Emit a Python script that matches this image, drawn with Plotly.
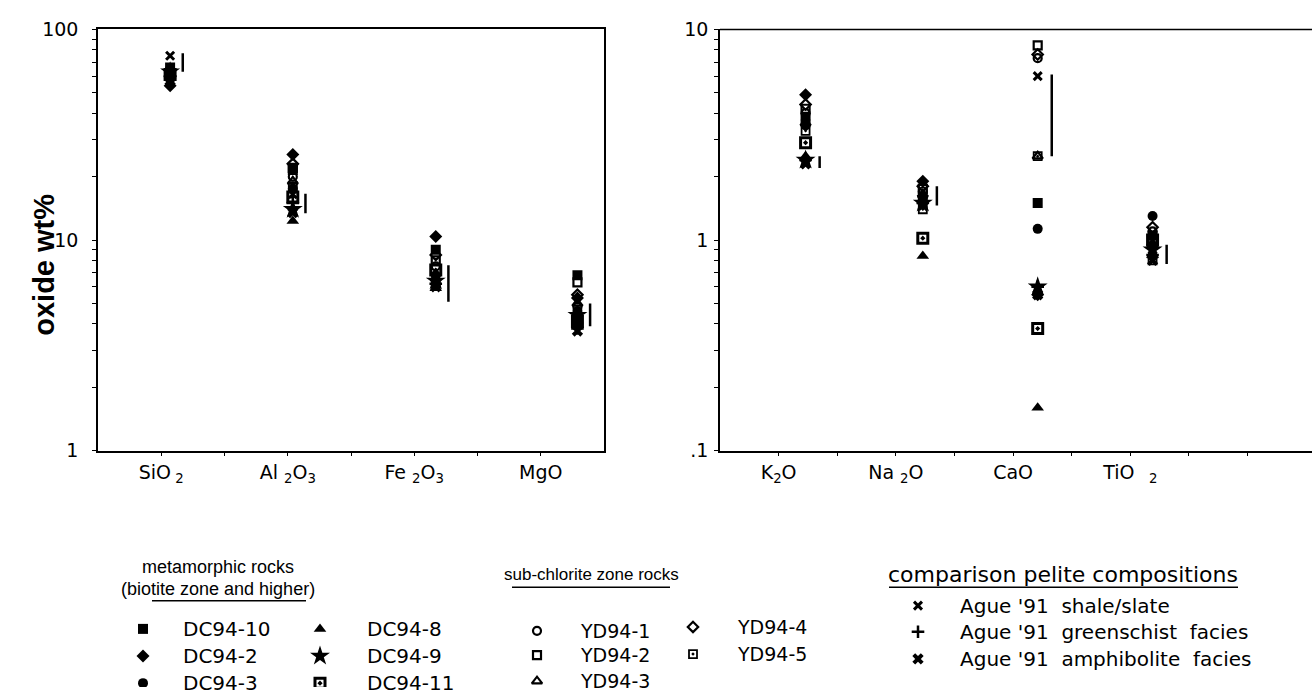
import plotly.graph_objects as go

W, H = 1312, 698

# ---------------- data ----------------
oxides_left = ["SiO2", "Al2O3", "Fe2O3", "MgO"]
oxides_right = ["K2O", "Na2O", "CaO", "TiO2"]
labels_left = ["SiO<sub> 2</sub>", "Al <sub>2</sub>O<sub>3</sub>", "Fe <sub>2</sub>O<sub>3</sub>", "MgO"]
labels_right = ["K<sub>2</sub>O", "Na <sub>2</sub>O", "CaO", "TiO <sub>  2</sub>"]
ytick_left = [1, 10, 100]
ytick_right = [0.1, 1, 10]
ytick_right_text = [".1", "1", "10"]

# values: SiO2, Al2O3, Fe2O3, MgO, K2O, Na2O, CaO, TiO2
samples = ["DC94-10", "DC94-2", "DC94-3", "DC94-8", "DC94-9", "DC94-11",
           "YD94-1", "YD94-2", "YD94-3", "YD94-4", "YD94-5",
           "Ague '91  shale/slate", "Ague '91  greenschist  facies", "Ague '91  amphibolite  facies"]
dc94_10 = [66, 21.5, 9.0, 6.8, 3.8, 1.55, 1.5, 1.05]
dc94_2 = [54, 25.5, 10.4, 5.3, 4.9, 1.9, 0.55, 0.95]
dc94_3 = [58, 17.5, 6.8, 4.6, 3.5, 1.6, 1.13, 1.3]
dc94_8 = [60, 12.3, 5.9, 4.0, 2.5, 0.84, 0.16, 0.85]
dc94_9 = [63, 14.0, 6.4, 4.4, 2.4, 1.5, 0.6, 0.9]
dc94_11 = [61, 16.0, 7.2, 4.1, 2.9, 1.02, 0.38, 1.0]
yd94_1 = [64, 20.0, 7.5, 4.8, 4.0, 1.7, 7.3, 1.1]
yd94_2 = [62, 22.0, 8.0, 6.3, 4.2, 1.75, 8.4, 1.0]
yd94_3 = [65, 19.0, 6.6, 5.0, 3.6, 1.65, 2.5, 0.95]
yd94_4 = [60, 23.0, 8.5, 5.5, 4.4, 1.8, 7.6, 1.15]
yd94_5 = [63, 18.0, 6.2, 4.2, 3.3, 1.4, 2.5, 0.8]
ague_shale = [75, 16.5, 6.5, 4.0, 3.6, 1.45, 6.0, 0.9]
ague_green = [60, 15.0, 6.2, 3.8, 2.4, 1.5, 0.6, 0.85]
ague_amph = [57, 13.5, 6.0, 3.7, 2.3, 1.55, 0.55, 0.8]
values = [dc94_10, dc94_2, dc94_3, dc94_8, dc94_9, dc94_11,
          yd94_1, yd94_2, yd94_3, yd94_4, yd94_5,
          ague_shale, ague_green, ague_amph]

# range bars beside each cluster
bar_low = [63, 13.4, 5.1, 3.9, 2.2, 1.46, 2.5, 0.77]
bar_high = [77, 16.6, 7.6, 5.0, 2.5, 1.8, 6.1, 0.95]

# ---------------- styles ----------------
sym = ["square", "diamond", "circle", "triangle-up", "star", "square-open-dot",
       "circle-open", "square-open", "triangle-up-open", "diamond-open", "square-open-dot",
       "x-thin-open", "cross-thin-open", "x"]
msize = [10, 10, 10, 11, 15, 10, 8, 8, 9, 8, 8, 8, 9, 10]
mlw = [0, 0, 0, 0, 0, 3, 2.2, 2.2, 2.2, 2.2, 1.8, 3, 2.5, 0]

FONT = "Liberation Sans, Arial, Helvetica, sans-serif"
WFONT = "DejaVu Sans, Verdana, sans-serif"
L_DOM = [98 / W, 604 / W]
R_DOM = [720 / W, 1.0]
Y_DOM = [1 - 454 / H, 1 - 19 / H]

OFF_L = [0.57, 0.54, 0.67, 0.79]   # point offsets inside each category slot
OFF_R = [0.73, 0.73, 0.71, 0.69]

def xl(i):
    return i + OFF_L[i]

def xr(i):
    return i + OFF_R[i]

fig = go.Figure()

for s, name in enumerate(samples):
    mk = dict(symbol=sym[s], size=msize[s], color="black", line=dict(color="black", width=mlw[s]))
    fig.add_trace(go.Scatter(x=[xl(i) for i in range(4)], y=values[s][:4], mode="markers",
                             xaxis="x", yaxis="y", showlegend=False, name=name, marker=mk))
    fig.add_trace(go.Scatter(x=[xr(i) for i in range(4)], y=values[s][4:], mode="markers",
                             xaxis="x2", yaxis="y2", showlegend=False, name=name, marker=mk))

# range bars
bx, by = [], []
for i in range(4):
    bx += [xl(i) + 0.1, xl(i) + 0.1, None]
    by += [bar_low[i], bar_high[i], None]
fig.add_trace(go.Scatter(x=bx, y=by, mode="lines", line=dict(color="black", width=2.5),
                         xaxis="x", yaxis="y", showlegend=False))
bx, by = [], []
for i in range(4):
    bx += [xr(i) + 0.12, xr(i) + 0.12, None]
    by += [bar_low[4 + i], bar_high[4 + i], None]
fig.add_trace(go.Scatter(x=bx, y=by, mode="lines", line=dict(color="black", width=2.5),
                         xaxis="x2", yaxis="y2", showlegend=False))

# ---------------- legend (drawn on a pixel overlay axis) ----------------
leg_pos = [  # (marker x, text x, y, font size) for each sample, in pixels
    (143, 181, 638, 20), (143, 181, 666, 20), (143, 181, 694, 20),
    (320, 365, 638, 20), (320, 365, 666, 20), (320, 365, 694, 20),
    (537, 578, 640, 19), (537, 578, 665, 19), (537, 578, 692, 19),
    (693, 735, 636, 19), (693, 735, 664, 19),
    (918, 958, 614, 20), (918, 958, 641, 20), (918, 958, 669, 20),
]
annotations = []
for s, name in enumerate(samples):
    mx, tx, ty, fs = leg_pos[s]
    fig.add_trace(go.Scatter(
        x=[mx], y=[ty], mode="markers", xaxis="x3", yaxis="y3", showlegend=False,
        marker=dict(symbol=sym[s], size=msize[s], color="black",
                    line=dict(color="black", width=mlw[s]))))
    annotations.append(dict(x=tx / W, y=1 - ty / H, xref="paper", yref="paper",
                            text=name, showarrow=False, xanchor="left", yanchor="middle",
                            font=dict(family=WFONT, size=fs, color="black")))

headers = [("metamorphic rocks", 218, 574, FONT, 18), ("(biotite zone and higher)", 218, 597, FONT, 18),
           ("sub-chlorite zone rocks", 591, 582, FONT, 17),
           ("comparison pelite compositions", 1063, 582, WFONT, 22)]
for t, x, y, f, sz in headers:
    annotations.append(dict(x=x / W, y=1 - y / H, xref="paper", yref="paper", text=t,
                            showarrow=False, xanchor="center", yanchor="middle",
                            font=dict(family=f, size=sz, color="black")))
annotations.append(dict(x=44 / W, y=1 - 262 / H, xref="paper", yref="paper",
                        text="<b>oxide wt%</b>", textangle=-90, showarrow=False,
                        xanchor="center", yanchor="middle",
                        font=dict(family=FONT, size=29, color="black")))

shapes = []
for x0, x1, y in [(152, 306, 609), (512, 670, 595), (889, 1238, 595)]:
    shapes.append(dict(type="line", xref="paper", yref="paper", x0=x0 / W, x1=x1 / W,
                       y0=1 - y / H, y1=1 - y / H, line=dict(color="black", width=1.5)))
# top frame line of the right panel (its right side runs off the page)
shapes.append(dict(type="line", xref="x2 domain", yref="y2 domain", x0=0, x1=1, y0=1, y1=1,
                   line=dict(color="black", width=1.5)))

tickfont = dict(family=WFONT, size=19, color="black")
xt = [0.5 * k for k in range(1, 8)]
xtl = [labels_left[(k - 1) // 2] if k % 2 == 1 else "" for k in range(1, 8)]
xt2 = [0.5 * k for k in range(1, 10)]
xtl2 = [labels_right[(k - 1) // 2] if (k % 2 == 1 and (k - 1) // 2 < 4) else "" for k in range(1, 10)]

# log ticks: labelled decades plus unlabelled intermediate ticks
def log_ticks(decades, labels):
    vals, txt = [], []
    for j, d in enumerate(decades):
        vals.append(d)
        txt.append(labels[j])
        if j < len(decades) - 1:
            for m in range(2, 10):
                vals.append(d * m)
                txt.append("")
    return vals, txt

yl_vals, yl_txt = log_ticks(ytick_left, [str(v) for v in ytick_left])
yr_vals, yr_txt = log_ticks(ytick_right, ytick_right_text)

axis_common = dict(showgrid=False, zeroline=False, linecolor="black", linewidth=1.5,
                   tickcolor="black", tickfont=tickfont, ticklabeloverflow="allow")

fig.update_layout(
    width=W, height=H, margin=dict(l=0, r=0, t=0, b=0),
    paper_bgcolor="white", plot_bgcolor="rgba(0,0,0,0)", showlegend=False,
    xaxis=dict(domain=L_DOM, range=[0, 4], tickvals=xt, ticktext=xtl, ticks="outside",
               ticklen=4, mirror=True, anchor="y", **axis_common),
    yaxis=dict(domain=Y_DOM, type="log", range=[0, 2], tickvals=yl_vals, ticktext=yl_txt,
               ticks="outside", ticklen=4, mirror=True, anchor="x", ticklabelstandoff=10,
               **axis_common),
    xaxis2=dict(domain=R_DOM, range=[0, 5.05], tickvals=xt2, ticktext=xtl2, ticks="outside",
                ticklen=4, mirror=False, anchor="y2", **axis_common),
    yaxis2=dict(domain=Y_DOM, type="log", range=[-1, 1], tickvals=yr_vals, ticktext=yr_txt,
                ticks="outside", ticklen=4, anchor="x2", mirror=False, ticklabelstandoff=2,
                **axis_common),
    xaxis3=dict(domain=[0, 1], range=[0, W], visible=False, anchor="y3"),
    yaxis3=dict(domain=[0, 1], range=[H, 0], visible=False, anchor="x3"),
    annotations=annotations, shapes=shapes,
)

fig.write_html("out.html")
